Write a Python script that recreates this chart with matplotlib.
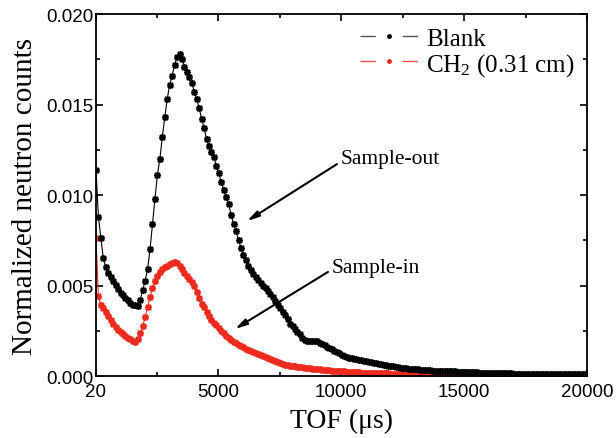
import numpy as np
import matplotlib
matplotlib.use("Agg")
import matplotlib.pyplot as plt
from matplotlib.lines import Line2D
from matplotlib.ticker import MultipleLocator, FixedLocator, FormatStrFormatter

plt.rcParams['mathtext.default'] = 'regular'

# ---------------- data ----------------
tof_start, tof_step = 20, 100
blank = [
    11.4, 8.8, 7.6, 6.5, 6.0, 5.7, 5.45, 5.25, 5.05, 4.8,
    4.6, 4.45, 4.3, 4.2, 4.05, 3.95, 3.9, 3.87, 4.2, 4.75,
    5.25, 5.9, 7.0, 8.4, 9.8, 11.1, 12.0, 13.2, 14.3, 15.3,
    16.1, 16.6, 17.2, 17.6, 17.8, 17.5, 17.1, 16.8, 16.5, 16.2,
    15.7, 15.3, 14.8, 14.2, 13.7, 13.1, 12.7, 12.4, 12.1, 11.6,
    11.2, 10.7, 10.3, 9.9, 9.5, 8.9, 8.4, 8.0, 7.5, 7.1,
    6.7, 6.4, 6.1, 5.85, 5.65, 5.45, 5.3, 5.15, 5.0, 4.85,
    4.7, 4.55, 4.35, 4.15, 3.95, 3.75, 3.55, 3.35, 3.15, 2.9,
    2.75, 2.6, 2.45, 2.3, 2.1, 1.98, 1.93, 1.92, 1.93, 1.95,
    1.92, 1.85, 1.78, 1.7, 1.63, 1.55, 1.47, 1.4, 1.32, 1.25,
    1.18, 1.12, 1.06, 1.01, 0.97, 0.95, 0.93, 0.91, 0.88, 0.85,
    0.82, 0.79, 0.76, 0.74, 0.71, 0.68, 0.65, 0.62, 0.59, 0.57,
    0.55, 0.53, 0.51, 0.49, 0.47, 0.45, 0.43, 0.41, 0.40, 0.38,
    0.37, 0.36, 0.35, 0.34, 0.33, 0.32, 0.31, 0.30, 0.29, 0.29,
    0.28, 0.27, 0.27, 0.26, 0.26, 0.25, 0.25, 0.24, 0.23, 0.23,
    0.22, 0.22, 0.21, 0.21, 0.20, 0.20, 0.19, 0.19, 0.18, 0.18,
    0.17, 0.17, 0.16, 0.16, 0.15, 0.15, 0.15, 0.14, 0.14, 0.14,
    0.13, 0.13, 0.13, 0.12, 0.13, 0.12, 0.12, 0.12, 0.11, 0.12,
    0.11, 0.11, 0.11, 0.10, 0.11, 0.10, 0.10, 0.10, 0.11, 0.10,
    0.10, 0.09, 0.10, 0.10, 0.09, 0.10, 0.09, 0.09, 0.10, 0.09,
]
ch2 = [
    7.6, 4.4, 3.9, 3.75, 3.55, 3.3, 3.1, 2.9, 2.7, 2.55,
    2.45, 2.32, 2.2, 2.1, 2.02, 1.95, 1.9, 2.05, 2.35, 2.75,
    3.25, 3.8, 4.35, 4.85, 5.25, 5.55, 5.75, 5.9, 6.0, 6.1,
    6.2, 6.25, 6.3, 6.25, 6.1, 5.9, 5.7, 5.5, 5.35, 5.2,
    4.95, 4.65, 4.3, 4.0, 3.8, 3.55, 3.3, 3.1, 2.95, 2.8,
    2.65, 2.5, 2.35, 2.2, 2.1, 2.0, 1.9, 1.8, 1.72, 1.65,
    1.58, 1.5, 1.44, 1.38, 1.32, 1.27, 1.22, 1.17, 1.12, 1.07,
    1.02, 0.96, 0.9, 0.84, 0.78, 0.72, 0.67, 0.63, 0.6, 0.58,
    0.56, 0.54, 0.52, 0.5, 0.48, 0.46, 0.44, 0.43, 0.41, 0.40,
    0.38, 0.37, 0.35, 0.34, 0.33, 0.31, 0.30, 0.29, 0.28, 0.27,
    0.26, 0.25, 0.24, 0.23, 0.22, 0.21, 0.20, 0.20, 0.19, 0.18,
    0.18, 0.17, 0.17, 0.16, 0.16, 0.15, 0.15, 0.14, 0.14, 0.14,
    0.13, 0.13, 0.12, 0.12, 0.12, 0.11, 0.11, 0.11, 0.10, 0.10,
    0.10, 0.10, 0.09, 0.09, 0.09, 0.09, 0.09, 0.08, 0.08, 0.08,
    0.08, 0.08, 0.08, 0.07, 0.07, 0.07, 0.07, 0.07, 0.07, 0.07,
    0.07, 0.06, 0.06, 0.06, 0.06, 0.06, 0.06, 0.06, 0.06, 0.06,
    0.06, 0.06, 0.05, 0.06, 0.05, 0.05, 0.06, 0.05, 0.05, 0.05,
    0.05, 0.05, 0.05, 0.05, 0.05, 0.05, 0.05, 0.05, 0.05, 0.05,
    0.05, 0.05, 0.05, 0.05, 0.05, 0.05, 0.05, 0.05, 0.05, 0.05,
    0.05, 0.05, 0.05, 0.05, 0.05, 0.05, 0.05, 0.05, 0.05, 0.05,
]
labels = ['Blank', 'CH$_2$ (0.31 cm)']
x_ticks = [20, 5000, 10000, 15000, 20000]
x_ticklabels = ['20', '5000', '10000', '15000', '20000']

tof = tof_start + tof_step * np.arange(len(blank))
blank_y = np.array(blank) * 1e-3
ch2_y = np.array(ch2) * 1e-3

# ---------------- figure ----------------
fig = plt.figure(figsize=(6.16, 4.39), dpi=100)
ax = fig.add_axes([0.1558, 0.1412, 0.7971, 0.8246])

RED = '#ee2a1e'
mk = (8, 2, 0)
ax.plot(tof, blank_y, color='black', lw=0.8, marker=mk, ms=5, mew=1.1, zorder=3)
ax.plot(tof, ch2_y, color=RED, lw=0.8, marker=mk, ms=5, mew=1.1, zorder=2)

ax.set_xlim(20, 20000)
ax.set_ylim(0, 0.020)
ax.xaxis.set_major_locator(FixedLocator(x_ticks))
ax.set_xticklabels(x_ticklabels)
ax.xaxis.set_minor_locator(FixedLocator([2500, 7500, 12500, 17500]))
ax.yaxis.set_major_locator(MultipleLocator(0.005))
ax.yaxis.set_minor_locator(MultipleLocator(0.0025))
ax.yaxis.set_major_formatter(FormatStrFormatter('%.3f'))

ax.tick_params(which='both', direction='in', top=True, right=True, width=1.2)
ax.tick_params(which='major', length=5)
ax.tick_params(which='minor', length=3)
ax.tick_params(axis='x', pad=5)
ax.tick_params(axis='y', pad=2)
for lab in ax.get_xticklabels() + ax.get_yticklabels():
    lab.set_fontfamily('Liberation Sans')
    lab.set_fontsize(13.5)
for s in ax.spines.values():
    s.set_linewidth(1.3)

ax.set_xlabel('TOF (μs)', family='Liberation Serif', fontsize=20, labelpad=6)
ax.set_ylabel('Normalized neutron counts', family='Liberation Serif', fontsize=21, labelpad=6)

# annotations
arrow_kw = dict(arrowstyle='-|>,head_length=0.7,head_width=0.18', color='black', lw=1.5,
                shrinkA=0, shrinkB=0)
ax.annotate('', xy=(6166, 0.00856), xytext=(9829, 0.01171), arrowprops=arrow_kw)
ax.annotate('', xy=(5677, 0.00260), xytext=(9462, 0.00575), arrowprops=arrow_kw)
ax.text(9992, 0.01204, 'Sample-out', family='Liberation Serif', fontsize=15.5,
        ha='left', va='center')
ax.text(9625, 0.00597, 'Sample-in', family='Liberation Serif', fontsize=15.5,
        ha='left', va='center')

# legend
dash = (0, (11, 19.4))
h1 = Line2D([], [], color='#555555', lw=1.0, linestyle=dash, marker='o', ms=2.5,
            mfc='black', mec='black')
h2 = Line2D([], [], color='#ff5050', lw=1.0, linestyle=dash, marker='o', ms=2.5,
            mfc=RED, mec=RED)
leg = ax.legend([h1, h2], labels, loc='upper left',
                bbox_to_anchor=(360 / 616, 1 - 28 / 439), bbox_transform=fig.transFigure,
                frameon=False, prop={'family': 'Liberation Serif', 'size': 18},
                handlelength=2.3, handletextpad=0.35, labelspacing=0.05,
                borderpad=0, borderaxespad=0, numpoints=1)

fig.savefig('out.png', dpi=100)
